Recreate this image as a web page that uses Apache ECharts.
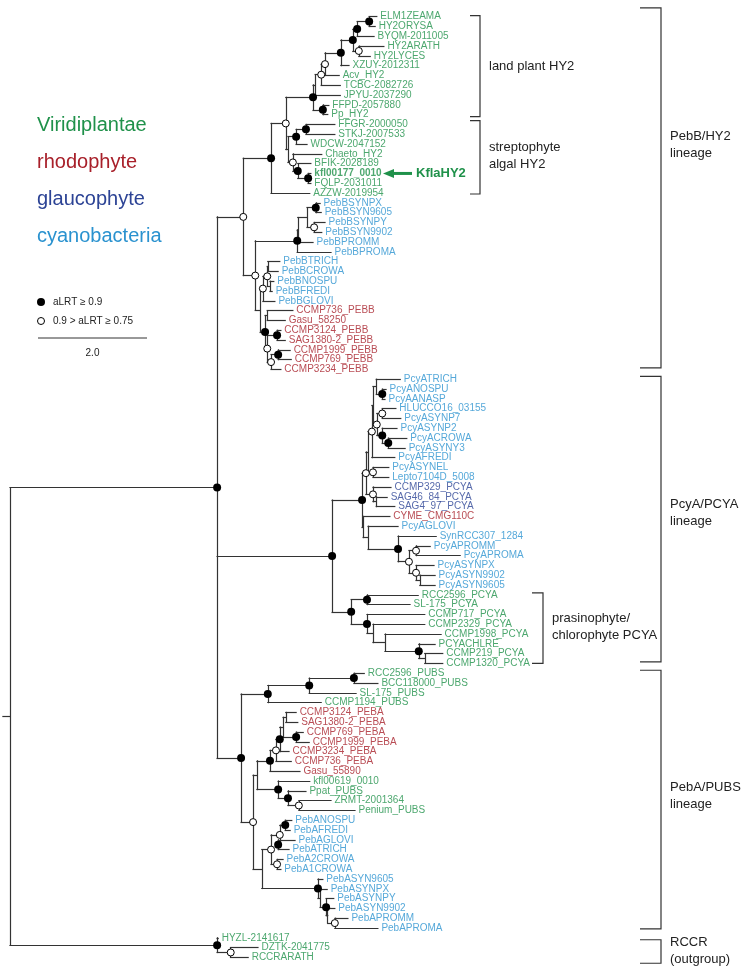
<!DOCTYPE html>
<html><head><meta charset="utf-8">
<script src="https://cdn.jsdelivr.net/npm/echarts@6/dist/echarts.min.js"></script>
<style>html,body{margin:0;padding:0;background:#fff}#c{width:751px;height:976px}</style>
</head><body><div id="c"></div>
<script>
// ---------- DATA ----------
const leafNames = ['ELM1ZEAMA','HY2ORYSA','BYQM-2011005','HY2ARATH','HY2LYCES','XZUY-2012311','Acv_HY2','TCBC-2082726','JPYU-2037290','FFPD-2057880','Pp_HY2',
'FFGR-2000050','STKJ-2007533','WDCW-2047152','Chaeto_HY2','BFIK-2028189','kfl00177_0010','FQLP-2031011','AZZW-2019954',
'PebBSYNPX','PebBSYN9605','PebBSYNPY','PebBSYN9902','PebBPROMM','PebBPROMA','PebBTRICH','PebBCROWA','PebBNOSPU','PebBFREDI','PebBGLOVI',
'CCMP736_PEBB','Gasu_58250','CCMP3124_PEBB','SAG1380-2_PEBB','CCMP1999_PEBB','CCMP769_PEBB','CCMP3234_PEBB',
'PcyATRICH','PcyANOSPU','PcyAANASP','HLUCCO16_03155','PcyASYNP7','PcyASYNP2','PcyACROWA','PcyASYNY3','PcyAFREDI','PcyASYNEL','Lepto7104D_5008',
'CCMP329_PCYA','SAG46_84_PCYA','SAG4_97_PCYA','CYME_CMG110C',
'PcyAGLOVI','SynRCC307_1284','PcyAPROMM','PcyAPROMA','PcyASYNPX','PcyASYN9902','PcyASYN9605',
'RCC2596_PCYA','SL-175_PCYA','CCMP717_PCYA','CCMP2329_PCYA','CCMP1998_PCYA','PCYACHLRE','CCMP219_PCYA','CCMP1320_PCYA',
'RCC2596_PUBS','BCC118000_PUBS','SL-175_PUBS','CCMP1194_PUBS',
'CCMP3124_PEBA','SAG1380-2_PEBA','CCMP769_PEBA','CCMP1999_PEBA','CCMP3234_PEBA','CCMP736_PEBA','Gasu_55890',
'kfl00619_0010','Ppat_PUBS','ZRMT-2001364','Penium_PUBS',
'PebANOSPU','PebAFREDI','PebAGLOVI','PebATRICH','PebA2CROWA','PebA1CROWA','PebASYN9605','PebASYNPX','PebASYNPY','PebASYN9902','PebAPROMM','PebAPROMA',
'HYZL-2141617','DZTK-2041775','RCCRARATH'];

// tip depth (substitutions / site, root = 0)
const leafTip = [6.73,6.70,6.68,6.86,6.61,6.22,6.04,6.06,6.06,5.85,5.83,
5.96,5.96,5.45,5.72,5.52,5.52,5.52,5.50,
5.69,5.71,5.78,5.72,5.56,5.89,4.95,4.92,4.84,4.81,4.86,
5.19,5.05,4.97,5.05,5.14,5.16,4.97,
7.16,6.90,6.88,7.08,7.17,7.10,7.28,7.25,7.06,6.95,6.95,
6.99,6.92,7.06,6.97,
7.12,7.82,7.71,8.26,7.78,7.80,7.80,
7.49,7.34,7.61,7.61,7.91,7.80,7.94,7.94,
6.50,6.75,6.35,5.71,
5.25,5.28,5.38,5.49,5.12,5.16,5.32,
5.50,5.43,5.89,6.33,
5.17,5.14,5.23,5.12,5.01,4.97,5.74,5.82,5.94,5.96,6.20,6.75,
3.82,4.55,4.37];

// V = Viridiplantae, R = rhodophyte, G = glaucophyte, C = cyanobacteria
const leafGroup = ('VVVVVVVVVVVVVVVVVVV' + 'CCCCCCCCCCC' + 'RRRRRRR' + 'CCCCCCCCCCC' + 'GGG' + 'R' +
  'CCCCCCC' + 'VVVVVVVVVVVV' + 'RRRRRRR' + 'VVVV' + 'CCCCCCCCCCCC' + 'VVV').split('');
const boldLeaves = ['kfl00177_0010'];

const groupCodes = ['V','R','G','C'];
const groupNames = ['Viridiplantae','rhodophyte','glaucophyte','cyanobacteria'];
const groupColors = ['#1f914a','#a8202a','#2c4395','#2a92cf'];

// node = [depth, support(1: aLRT>=0.9, 2: 0.9>aLRT>=0.75, 0: none), children...]; leaf = index
const tree =
[0, 0,
 [3.80, 1,
  [4.28, 2,
   [4.79, 1,
    [5.06, 2,
     [5.56, 1,
      [5.60, 0,
       [5.71, 2,
        [5.78, 2,
         [6.07, 1,
          [6.29, 1,
           [6.37, 1, [6.59, 1, 0, 1], 2],
           [6.40, 2, 3, 4]],
          5],
         6],
        7],
       8],
      [5.74, 1, 9, 10]],
     [5.10, 0,
      [5.25, 1, [5.43, 1, 11, 12], 13],
      [5.19, 2, 14, [5.28, 1, 15, [5.47, 1, 16, 17]]]]],
    18],
   [4.50, 2,
    [5.27, 1,
     [5.28, 0,
      [5.45, 0, [5.61, 1, 19, 20], [5.58, 2, 21, 22]],
      23],
     24],
    [4.59, 0,
     [4.64, 2,
      [4.72, 2, [4.73, 0, 25, 26], [4.77, 0, 27, 28]],
      29],
     [4.68, 1,
      [4.72, 0, 30, 31],
      [4.72, 2, [4.90, 1, 32, 33], [4.79, 2, [4.92, 1, 34, 35], 36]]]]]],
  [5.91, 1,
   [6.46, 1,
    [6.53, 2,
     [6.57, 0,
      [6.64, 2,
       [6.66, 0,
        [6.72, 0, 37, [6.83, 1, 38, 39]],
        [6.73, 2, [6.83, 2, 40, 41], [6.83, 1, 42, [6.94, 1, 43, 44]]]],
       45],
      [6.66, 2, 46, 47]],
     [6.66, 2, 48, [6.72, 0, 49, 50]]],
    [6.48, 0,
     51,
     [6.57, 0,
      52,
      [7.12, 1,
       53,
       [7.32, 2,
        [7.45, 2, 54, 55],
        [7.45, 2, 56, [7.52, 0, 57, 58]]]]]]],
   [6.26, 1,
    [6.55, 1, 59, 60],
    [6.55, 1,
     61,
     [6.66, 0,
      62,
      [6.88, 0,
       63,
       [7.50, 1, 64, [7.61, 0, 65, 66]]]]]]],
  [4.24, 1,
   [4.73, 1,
    [5.49, 1, [6.31, 1, 67, 68], 69],
    70],
   [4.46, 2,
    [4.53, 0,
     [4.77, 1,
      [4.88, 2,
       [4.95, 1,
        [5.01, 0, [5.06, 0, 71, 72], [5.25, 1, 73, 74]],
        75],
       76],
      77],
     [4.92, 1, 78, [5.10, 1, 79, [5.30, 2, 80, 81]]]],
    [4.62, 0,
     [4.79, 2,
      [4.95, 2, [5.05, 1, 82, 83], [4.92, 1, 84, 85]],
      [4.90, 2, 86, 87]],
     [5.65, 1,
      88,
      [5.69, 0,
       89,
       [5.80, 1,
        90,
        [5.83, 0,
         91,
         [5.96, 2, 92, 93]]]]]]]]],
 [3.80, 1, 94, [4.05, 2, 95, 96]]];
const rootStub = -0.13;
const scaleBarValue = 2.0;

// clade brackets (leaf-row ranges)
const bracketLabels = ['land plant HY2','streptophyte\nalgal HY2','PebB/HY2\nlineage','PcyA/PCYA\nlineage','prasinophyte/\nchlorophyte PCYA','PebA/PUBS\nlineage','RCCR\n(outgroup)'];
const bracketFrom = [-0.1, 10.6, -0.9, 36.7, 58.8, 66.7, 94.2];
const bracketTo   = [10.2, 18.1, 35.85, 65.85, 66.0, 93.1, 96.6];
const bracketLabelAt = [5.05, 14.2, 13.1, 50.6, 62.3, 79.5, 95.3];

const supportLegend = ['aLRT \u2265 0.9', '0.9 > aLRT \u2265 0.75'];
const highlightLeaf = 'kfl00177_0010';
const highlightText = 'KflaHY2';

// ---------- LAYOUT OF TREE ----------
const segs = [], blackDots = [], whiteDots = [];
function walk(node){
  if (typeof node === 'number') return {x: leafTip[node], y: node};
  const d = node[0], s = node[1];
  const cs = node.slice(2).map(walk);
  const y0 = cs[0].y, y1 = cs[cs.length-1].y, y = (y0 + y1) / 2;
  cs.forEach(c => segs.push({coords: [[d, c.y], [c.x, c.y]]}));
  segs.push({coords: [[d, y0], [d, y1]]});
  if (s === 1) blackDots.push([d, y]);
  else if (s === 2) whiteDots.push([d, y]);
  return {x: d, y: y};
}
const rootPos = walk(tree);
segs.push({coords: [[rootStub, rootPos.y], [rootPos.x, rootPos.y]]});

const FONT = '"Liberation Sans", Arial, sans-serif';
const colorOf = code => groupColors[groupCodes.indexOf(code)];

const chart = echarts.init(document.getElementById('c'), null, {width: 751, height: 976});
const BX = {small: 480, prasino: 543, big: 661};
const bracketX = [BX.small, BX.small, BX.big, BX.big, BX.prasino, BX.big, BX.big];
const bracketTick = [10, 10, 21, 21, 11, 21, 21];

chart.setOption({
  animation: false,
  grid: {left: 0, right: 0, top: 0, bottom: 0},
  xAxis: {type: 'value', min: -0.1835, max: 13.596, show: false},
  yAxis: {type: 'value', inverse: true, min: -1.7, max: 97.9, show: false},
  series: [
    {type: 'lines', coordinateSystem: 'cartesian2d', silent: true, z: 2,
     lineStyle: {color: '#333', width: 1.2, opacity: 1, cap: 'square'},
     data: segs},
    {type: 'scatter', silent: true, z: 5, symbol: 'circle', symbolSize: 8,
     itemStyle: {color: '#000', opacity: 1}, data: blackDots},
    {type: 'scatter', silent: true, z: 5, symbol: 'circle', symbolSize: 7,
     itemStyle: {color: '#fff', borderColor: '#000', borderWidth: 1, opacity: 1}, data: whiteDots},
    {type: 'scatter', silent: true, z: 6, symbolSize: 1,
     itemStyle: {color: 'rgba(0,0,0,0)'},
     label: {show: true, position: 'right', distance: 3, formatter: '{b}', fontSize: 10, fontFamily: FONT},
     data: leafNames.map((n, i) => ({name: n, value: [leafTip[i], i],
       label: {color: colorOf(leafGroup[i]), fontWeight: boldLeaves.includes(n) ? 'bold' : 'normal'}}))},
    {type: 'custom', silent: true, z: 3,
     data: bracketLabels.map((l, i) => [0, bracketFrom[i]]),
     renderItem: function(params, api){
       const i = params.dataIndex;
       const y0 = api.coord([0, bracketFrom[i]])[1], y1 = api.coord([0, bracketTo[i]])[1];
       const yl = api.coord([0, bracketLabelAt[i]])[1];
       const x = bracketX[i], t = x - bracketTick[i];
       return {type: 'group', children: [
         {type: 'polyline', shape: {points: [[t, y0], [x, y0], [x, y1], [t, y1]]},
          style: {stroke: '#333', lineWidth: 1.2, fill: null}},
         {type: 'text', style: {text: bracketLabels[i], x: x + 9, y: yl, font: '13px ' + FONT,
          fill: '#222', verticalAlign: 'middle', lineHeight: 17}}
       ]};
     }}
  ]
});

// ---------- ANNOTATIONS ----------
const px = v => chart.convertToPixel({xAxisIndex: 0}, v);
const py = v => chart.convertToPixel({yAxisIndex: 0}, v);
const hiIdx = leafNames.indexOf(highlightLeaf);
const hy = py(hiIdx);
const sb0 = px(0) + 28, sb1 = sb0 + (px(scaleBarValue) - px(0));
const green = groupColors[0];
const graphics = [];
groupNames.forEach((g, i) => graphics.push({type: 'text', left: 37, top: 115 + i * 37,
  style: {text: g, font: '20px ' + FONT, fill: groupColors[i]}}));
graphics.push({type: 'circle', shape: {cx: 41, cy: 302, r: 4}, style: {fill: '#000'}});
graphics.push({type: 'circle', shape: {cx: 41, cy: 321, r: 3.5}, style: {fill: '#fff', stroke: '#000', lineWidth: 1}});
graphics.push({type: 'text', x: 53, y: 302, style: {text: supportLegend[0], font: '10px ' + FONT, fill: '#222', verticalAlign: 'middle'}});
graphics.push({type: 'text', x: 53, y: 321, style: {text: supportLegend[1], font: '10px ' + FONT, fill: '#222', verticalAlign: 'middle'}});
graphics.push({type: 'line', shape: {x1: sb0, y1: 338, x2: sb1, y2: 338}, style: {stroke: '#333', lineWidth: 1}});
graphics.push({type: 'text', x: (sb0 + sb1) / 2, y: 353, style: {text: scaleBarValue.toFixed(1), font: '10px ' + FONT, fill: '#222', align: 'center', verticalAlign: 'middle'}});
graphics.push({type: 'line', shape: {x1: 392, y1: hy, x2: 412, y2: hy}, style: {stroke: green, lineWidth: 3}});
graphics.push({type: 'polygon', shape: {points: [[383, hy], [394, hy - 4.5], [394, hy + 4.5]]}, style: {fill: green}});
graphics.push({type: 'text', x: 416, y: hy, style: {text: highlightText, font: 'bold 13px ' + FONT, fill: green, verticalAlign: 'middle'}});
chart.setOption({graphic: graphics});
</script></body></html>
